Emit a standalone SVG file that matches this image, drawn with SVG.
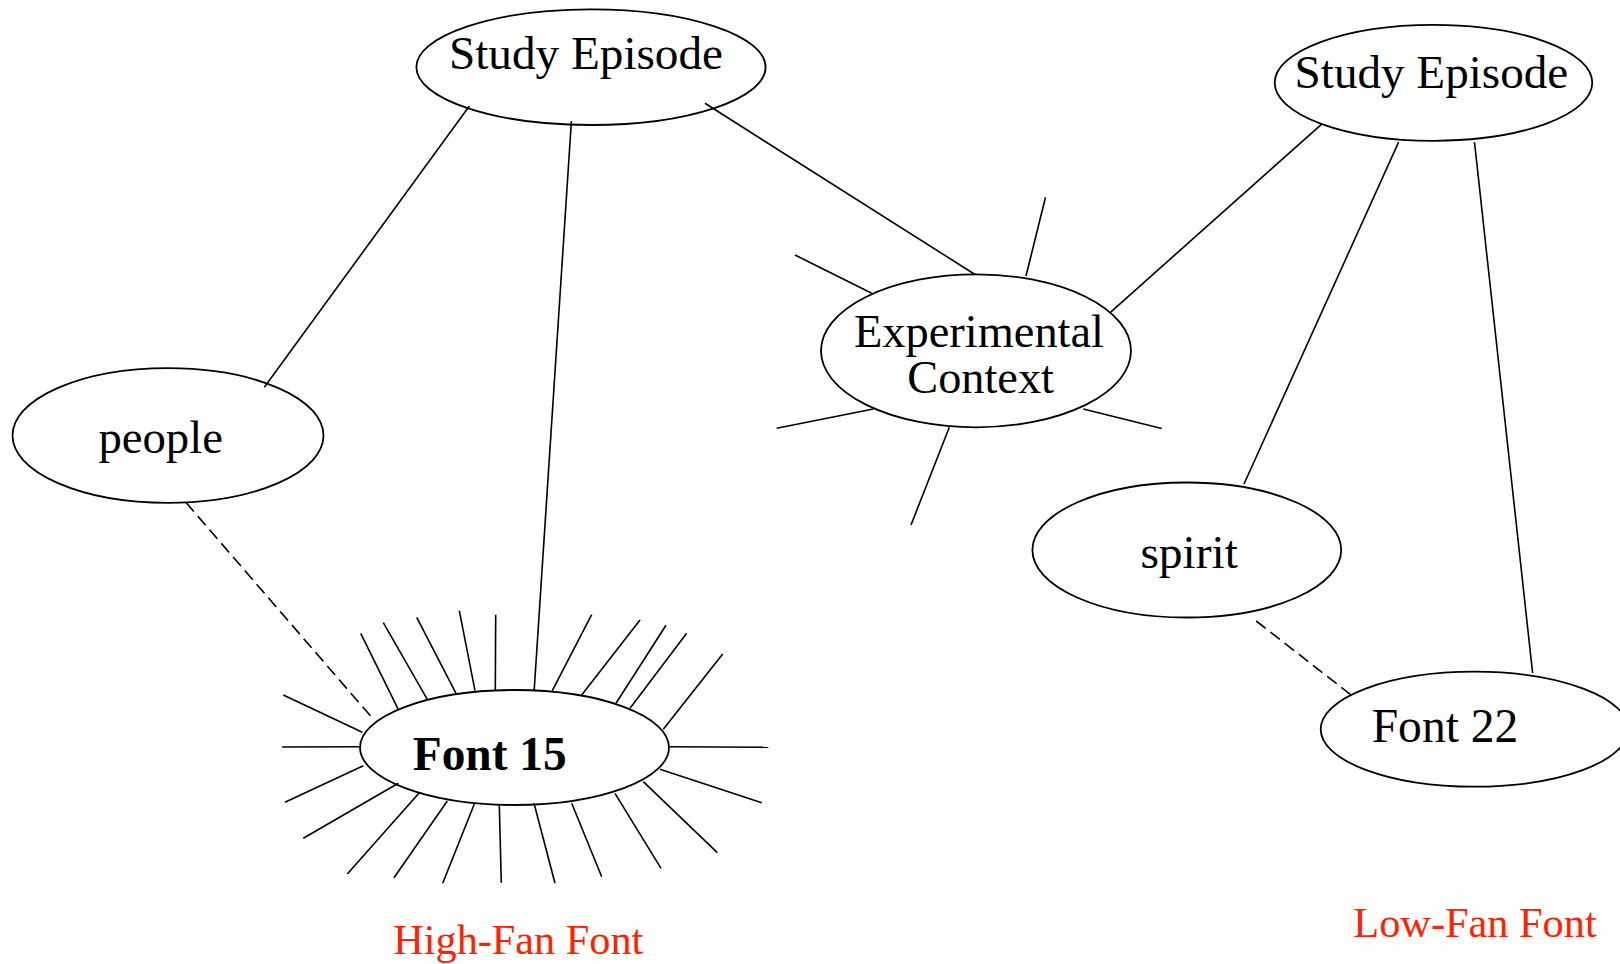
<svg xmlns="http://www.w3.org/2000/svg" width="1620" height="964" viewBox="0 0 1620 964">
<style>
.node ellipse{fill:#fff;stroke:#000;stroke-width:1.8}
.lbl{font-family:"Liberation Serif","Times New Roman",serif;font-size:46px;fill:#000;text-anchor:middle}
.edge line{stroke:#000;stroke-width:1.6;fill:none}
.edge .dash{stroke-dasharray:12 6}
.cap{font-family:"Liberation Serif","Times New Roman",serif;font-size:42px;fill:#ff2200}
</style>
<rect width="1620" height="964" fill="#fff"/>
<g id="study-episode-1" class="node">
<ellipse cx="591" cy="67.2" rx="174.6" ry="57.8"/>
<text class="lbl" x="586" y="68.5" textLength="274" lengthAdjust="spacingAndGlyphs">Study Episode</text>
</g>
<g id="people" class="node">
<ellipse cx="168" cy="435.5" rx="155.5" ry="67.3"/>
<text class="lbl" x="160.7" y="453.3" textLength="124.5" lengthAdjust="spacingAndGlyphs">people</text>
</g>
<g id="font-15" class="node">
<ellipse cx="514.5" cy="747.5" rx="154.5" ry="57.5"/>
<text class="lbl" x="489.7" y="770" style="font-weight:bold;font-size:48px" textLength="154" lengthAdjust="spacingAndGlyphs">Font 15</text>
</g>
<g id="experimental-context" class="node">
<ellipse cx="976" cy="350.8" rx="155" ry="76.5"/>
<text class="lbl" x="979" y="346.7" textLength="250" lengthAdjust="spacingAndGlyphs">Experimental</text>
<text class="lbl" x="980.6" y="393.3" textLength="146.7" lengthAdjust="spacingAndGlyphs">Context</text>
</g>
<g id="study-episode-2" class="node">
<ellipse cx="1433.5" cy="82.8" rx="158.8" ry="58"/>
<text class="lbl" x="1431.4" y="88.4" textLength="273.6" lengthAdjust="spacingAndGlyphs">Study Episode</text>
</g>
<g id="spirit" class="node">
<ellipse cx="1186.8" cy="550" rx="154.4" ry="67.5"/>
<text class="lbl" x="1189.2" y="568" textLength="97.6" lengthAdjust="spacingAndGlyphs">spirit</text>
</g>
<g id="font-22" class="node">
<ellipse cx="1474.5" cy="729.2" rx="153.8" ry="57.5"/>
<text class="lbl" x="1445" y="741.7" style="font-size:48px" textLength="146.6" lengthAdjust="spacingAndGlyphs">Font 22</text>
</g>
<g id="connectors" class="edge">
<line x1="469.4" y1="106" x2="264.3" y2="387.3"/>
<line x1="571.4" y1="121" x2="534.2" y2="690"/>
<line x1="705" y1="103.3" x2="975" y2="274.5"/>
<line class="dash" x1="186" y1="502.5" x2="374" y2="720"/>
<line x1="1322.3" y1="123.6" x2="1110.7" y2="312.1"/>
<line x1="1398.6" y1="142.2" x2="1244" y2="484"/>
<line x1="1474.5" y1="142.2" x2="1532.6" y2="673"/>
<line class="dash" x1="1256.2" y1="621" x2="1351.1" y2="695"/>
<line x1="1045.5" y1="197.3" x2="1026" y2="276"/>
<line x1="795" y1="255" x2="871.7" y2="293.3"/>
<line x1="776.7" y1="428.3" x2="873.3" y2="409"/>
<line x1="1083.3" y1="409" x2="1161.7" y2="428.5"/>
<line x1="949.3" y1="427.3" x2="911" y2="525"/>
<line x1="360.7" y1="633.3" x2="398.3" y2="709.3"/>
<line x1="383.3" y1="622.7" x2="427.3" y2="699.3"/>
<line x1="416.7" y1="617.3" x2="456" y2="693.3"/>
<line x1="459.3" y1="610.7" x2="475" y2="690.7"/>
<line x1="495.7" y1="614.7" x2="495.3" y2="690"/>
<line x1="591.7" y1="614.7" x2="552.3" y2="690.7"/>
<line x1="640" y1="620" x2="581.7" y2="695"/>
<line x1="666" y1="625.3" x2="616" y2="703.3"/>
<line x1="686.7" y1="633.3" x2="630" y2="708.3"/>
<line x1="722.7" y1="654" x2="663.3" y2="729.3"/>
<line x1="670" y1="746.7" x2="768.3" y2="747.3"/>
<line x1="660" y1="769.3" x2="761.7" y2="802.7"/>
<line x1="643.3" y1="781.7" x2="717.3" y2="852.7"/>
<line x1="615" y1="793.3" x2="661" y2="868.3"/>
<line x1="571.7" y1="803.3" x2="601.7" y2="876.7"/>
<line x1="534" y1="803.3" x2="555" y2="883.3"/>
<line x1="499.3" y1="805" x2="501.3" y2="882.7"/>
<line x1="474.3" y1="804" x2="442.7" y2="883.3"/>
<line x1="447.3" y1="801" x2="394" y2="877.7"/>
<line x1="419.3" y1="792.7" x2="347.3" y2="874"/>
<line x1="398.3" y1="783.3" x2="303.3" y2="838.3"/>
<line x1="363.3" y1="765.7" x2="285" y2="802.3"/>
<line x1="360" y1="746.7" x2="282" y2="747"/>
<line x1="362.3" y1="732.3" x2="283.3" y2="695"/>
</g>
<text class="cap" x="393.3" y="954" textLength="250" lengthAdjust="spacingAndGlyphs">High-Fan Font</text>
<text class="cap" x="1353.3" y="936.7" textLength="243.4" lengthAdjust="spacingAndGlyphs">Low-Fan Font</text>
</svg>
